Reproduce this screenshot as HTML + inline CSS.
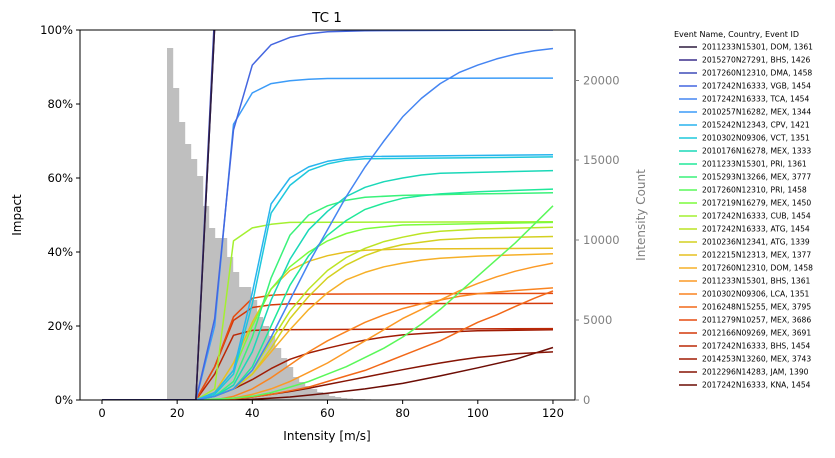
<!DOCTYPE html>
<html><head><meta charset="utf-8"><style>
html,body{margin:0;padding:0;background:#fff;}
svg text{font-family:"DejaVu Sans","Liberation Sans",sans-serif;}
</style></head><body>
<svg id="s" width="835" height="453" viewBox="0 0 835 453" xmlns="http://www.w3.org/2000/svg">
<rect width="835" height="453" fill="#fff"/>
<g id="hist" fill="#bfbfbf"></g>
<g id="curves" fill="none" stroke-width="1.5" stroke-linejoin="round"></g>
<rect x="80" y="30" width="495" height="370" fill="none" stroke="#000" stroke-width="1"/>
<g id="axes" font-size="11.5"></g>
<text x="327" y="22" font-size="13.5" text-anchor="middle">TC 1</text>
<text x="327" y="440" font-size="12" text-anchor="middle">Intensity [m/s]</text>
<text transform="translate(21,215) rotate(-90)" font-size="12" text-anchor="middle">Impact</text>
<text transform="translate(645,215) rotate(-90)" font-size="12" text-anchor="middle" fill="#808080">Intensity Count</text>
<g id="legend"></g>
</svg>
<script>
var NS="http://www.w3.org/2000/svg";
function el(t,a,p,txt){var e=document.createElementNS(NS,t);for(var k in a)e.setAttribute(k,a[k]);if(txt!==undefined)e.textContent=txt;p.appendChild(e);return e;}
var X=function(v){return 102+3.758*v;}, Y=function(p){return 400-3.7*p;};
var H=document.getElementById('hist');
var bars=[[167,48],[173,88],[179,122],[185,144],[191,159],[197,176],[203,206],[209,228],[215,238],[221,238],[227,257],[233,272],[239,287],[245,287],[251,300],[257,317],[263,326],[269,336],[275,348],[281,358],[287,367],[293,377],[299,382],[305,386],[311,389],[317,392],[323,394],[329,396],[335,397],[341,398],[347,398.5],[353,399],[359,399],[365,399.3],[371,399.5],[377,399.6]];
bars.forEach(function(b){el('rect',{x:b[0],y:b[1],width:6.2,height:400-b[1]},H);});
var A=document.getElementById('axes');
[0,20,40,60,80,100,120].forEach(function(v){var x=X(v);el('line',{x1:x,x2:x,y1:400,y2:404,stroke:'#000'},A);el('text',{x:x,y:417,'text-anchor':'middle'},A,v);});
[0,20,40,60,80,100].forEach(function(p){var y=Y(p);el('line',{x1:76,x2:80,y1:y,y2:y,stroke:'#000'},A);el('text',{x:73,y:y+4,'text-anchor':'end'},A,p+'%');});
[[0,400],[5000,320],[10000,240],[15000,160],[20000,80.5]].forEach(function(t){el('line',{x1:575,x2:579,y1:t[1],y2:t[1],stroke:'#808080'},A);el('text',{x:583,y:t[1]+4,fill:'#808080'},A,t[0]);});
var C=[
['#2d1b3e','2011233N15301, DOM, 1361',[[25,0],[30,101]]],
['#3b2f8c','2015270N27291, BHS, 1426',[[25,0],[30,101]]],
['#3f4bb8','2017260N12310, DMA, 1458',[[25,0],[29.8,101]]],
['#4466e0','2017242N16333, VGB, 1454',[[25,0],[30,22],[35,73],[40,90.5],[45,96],[50,98],[55,99],[60,99.5],[70,99.8],[120,100]]],
['#4585f2','2017242N16333, TCA, 1454',[[25,0],[30,1],[35,3],[40,8],[45,17],[50,27],[55,37],[60,46],[65,55],[70,63],[75,70],[80,76.5],[85,81.5],[90,85.5],[95,88.5],[100,90.5],[105,92.2],[110,93.5],[115,94.4],[120,95]]],
['#3c9cf8','2010257N16282, MEX, 1344',[[25,0],[30,20],[35,74.5],[40,83],[45,85.5],[50,86.3],[55,86.7],[60,86.9],[120,87]]],
['#28b4ee','2015242N12343, CPV, 1421',[[25,0],[30,2],[35,8],[40,29],[45,53],[50,60],[55,63],[60,64.5],[65,65.3],[70,65.8],[120,66.3]]],
['#1ec8dc','2010302N09306, VCT, 1351',[[25,0],[30,1.5],[35,7],[40,26],[45,50.5],[50,58],[55,62],[60,63.8],[65,64.8],[70,65.2],[120,65.7]]],
['#1ad8b8','2010176N16278, MEX, 1333',[[25,0],[30,1],[35,4],[40,13],[45,27],[50,38],[55,46],[60,51],[65,55],[70,57.5],[75,59],[80,60],[85,60.8],[90,61.3],[120,62]]],
['#20e89a','2011233N15301, PRI, 1361',[[25,0],[30,1],[35,3],[40,9],[45,20],[50,31],[55,39],[60,44.5],[65,48.5],[70,51.5],[75,53.2],[80,54.5],[85,55.2],[90,55.7],[100,56.3],[120,57]]],
['#3af27a','2015293N13266, MEX, 3777',[[25,0],[30,1],[35,5],[40,17],[45,33],[50,44.5],[55,50],[60,52.5],[65,54],[70,54.8],[80,55.3],[100,55.7],[120,56]]],
['#5af85a','2017260N12310, PRI, 1458',[[25,0],[35,0.5],[40,1],[45,2],[50,3.5],[55,5],[60,7],[65,9],[70,11.5],[75,14],[80,17],[85,20.5],[90,24.5],[95,29],[100,33.5],[105,38],[110,42.5],[115,47.5],[120,52.5]]],
['#7cfc3c','2017219N16279, MEX, 1450',[[25,0],[30,2],[35,8],[40,20],[45,30],[50,36],[55,40],[60,43],[65,45],[70,46.3],[80,47.3],[120,48]]],
['#a4f030','2017242N16333, CUB, 1454',[[25,0],[30,3],[35,43],[40,46.5],[45,47.5],[50,48],[120,48.2]]],
['#bce424','2017242N16333, ATG, 1454',[[25,0],[30,1],[35,3],[40,8],[45,16],[50,24],[55,30],[60,35],[65,38.5],[70,41],[75,42.8],[80,44],[85,45],[90,45.6],[100,46.2],[120,46.7]]],
['#d4d020','2010236N12341, ATG, 1339',[[25,0],[30,1],[35,3],[40,7],[45,14],[50,22],[55,28],[60,33],[65,36.5],[70,39],[75,40.8],[80,42],[90,43.3],[100,43.8],[120,44.2]]],
['#e6c020','2012215N12313, MEX, 1377',[[25,0],[30,2],[35,10],[40,21],[45,30],[50,35],[55,37.5],[60,39],[65,40],[70,40.5],[80,40.8],[120,41]]],
['#f6b028','2017260N12310, DOM, 1458',[[25,0],[30,1],[35,3],[40,7],[45,13],[50,19],[55,24.5],[60,29],[65,32.5],[70,34.5],[75,36],[80,37],[85,37.8],[90,38.3],[100,38.9],[120,39.5]]],
['#fc9a26','2011233N15301, BHS, 1361',[[30,0],[35,0.5],[40,1.5],[45,3],[50,5],[55,7.5],[60,10],[65,13],[70,16],[75,19],[80,22],[85,24.5],[90,27],[95,29.5],[100,31.5],[105,33.3],[110,34.8],[115,36],[120,37]]],
['#fa8420','2010302N09306, LCA, 1351',[[30,0],[35,1],[40,3],[45,6],[50,9.5],[55,13],[60,16],[65,18.5],[70,21],[75,23],[80,24.7],[85,26],[90,27],[95,28],[100,28.7],[110,29.6],[120,30.3]]],
['#f26818','2016248N15255, MEX, 3795',[[30,0],[35,0.3],[40,0.8],[45,1.5],[50,2.5],[55,3.5],[60,5],[65,6.5],[70,8],[75,10],[80,12],[85,14],[90,16],[95,18.5],[100,21],[105,23],[110,25.3],[115,27.5],[120,29.5]]],
['#e64c10','2011279N10257, MEX, 3686',[[25,0],[30,9],[35,22.5],[40,27.5],[45,28.3],[50,28.6],[120,28.8]]],
['#d4380a','2012166N09269, MEX, 3691',[[25,0],[30,9],[35,21.5],[40,25],[45,25.7],[50,26],[120,26.1]]],
['#bc2806','2017242N16333, BHS, 1454',[[25,0],[30,7],[35,17.5],[40,18.8],[45,19],[120,19.3]]],
['#a01c04','2014253N13260, MEX, 3743',[[25,0],[30,1],[35,3],[40,5.5],[45,8.5],[50,11],[55,12.7],[60,14],[65,15.2],[70,16.2],[75,17],[80,17.6],[90,18.3],[100,18.7],[120,19]]],
['#861404','2012296N14283, JAM, 1390',[[30,0],[35,0.2],[40,0.8],[45,1.5],[50,2.3],[55,3.2],[60,4.2],[65,5.2],[70,6.2],[75,7.2],[80,8.2],[85,9.1],[90,10],[95,10.8],[100,11.5],[105,12],[110,12.5],[120,13]]],
['#6c0c04','2017242N16333, KNA, 1454',[[35,0],[40,0.2],[50,0.8],[60,1.8],[70,3],[80,4.5],[90,6.5],[100,8.7],[110,11],[120,14.2]]]
];
var G=document.getElementById('curves'),L=document.getElementById('legend');
var clip=el('clipPath',{id:'cp'},document.getElementById('s'));el('rect',{x:80,y:30,width:495,height:370},clip);
G.setAttribute('clip-path','url(#cp)');
for(var i=C.length-1;i>=0;i--){var c=C[i];var pts=[[0,0]].concat(c[2]);
 var s=pts.map(function(p){return X(p[0]).toFixed(1)+','+Y(p[1]).toFixed(1);}).join(' ');
 el('polyline',{points:s,stroke:c[0]},G);}
el('text',{x:674,y:37,'font-size':8},L,'Event Name, Country, Event ID');
C.forEach(function(c,i){var y=47+13*i;el('line',{x1:679,x2:697,y1:y,y2:y,stroke:c[0],'stroke-width':1.5},L);el('text',{x:702,y:y+2.7,'font-size':7.6},L,c[1]);});
</script>
</body></html>
